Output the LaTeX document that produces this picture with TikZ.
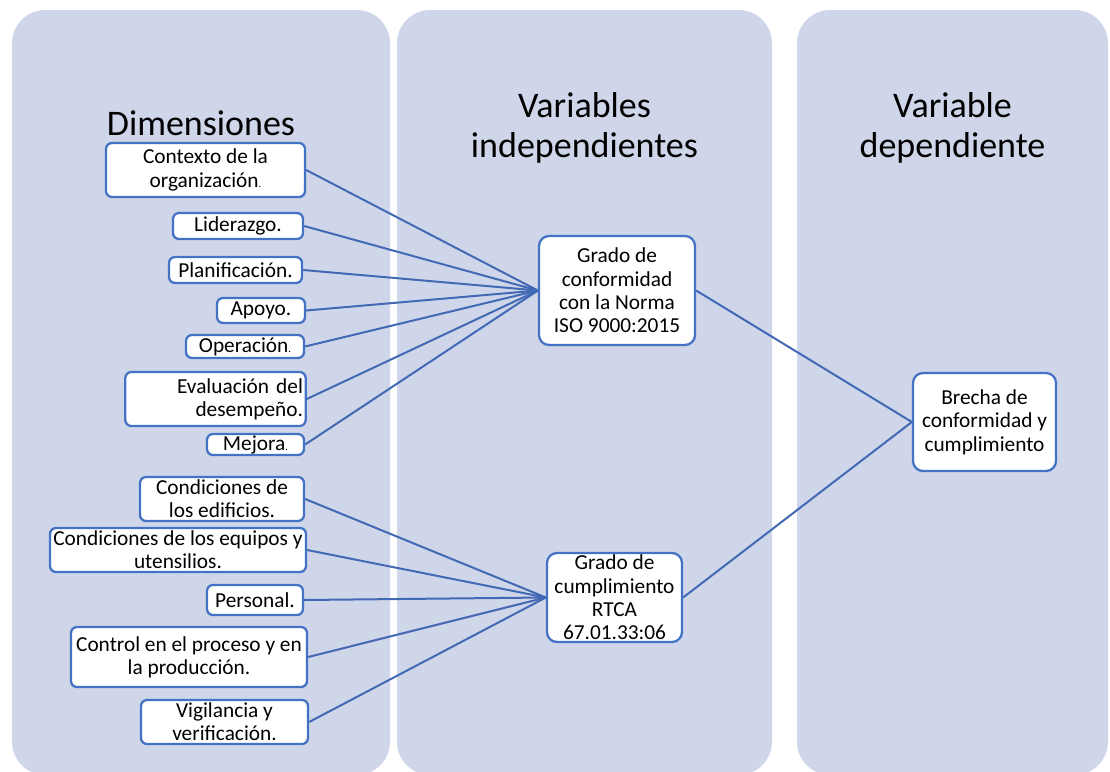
\documentclass[tikz,border=0pt]{standalone}
\usepackage{fontspec}
\setmainfont{Carlito}
\definecolor{colbg}{RGB}{208,214,234}
\definecolor{boxblue}{RGB}{68,114,196}
\definecolor{lineblue}{RGB}{66,105,180}
\newcommand{\smdot}{{\fontsize{8}{8}\selectfont.}}
\begin{document}
\begin{tikzpicture}[x=0.75pt,y=-0.75pt,
  column/.style={fill=colbg, rounded corners=25pt},
  title/.style={font=\fontsize{27}{30}\selectfont, align=center, inner sep=0pt, anchor=base},
  item/.style={draw=boxblue, line width=1.7pt, fill=white, rounded corners=4.5pt,
    font=\fontsize{16}{17.5}\selectfont, align=center, inner xsep=2pt, inner ysep=0pt},
  bigitem/.style={item, rounded corners=7.5pt},
  sz/.style 2 args={minimum width=#1*0.75pt, minimum height=#2*0.75pt},
  link/.style={draw=lineblue, line width=1.5pt}
]
\useasboundingbox (0,0) rectangle (1110,771);
\fill[white] (0,0) rectangle (1110,771);
\clip (0,0) rectangle (1110,771);

% three columns
\path[column] (12,10) rectangle (390,775);
\path[column] (397,10) rectangle (772,775);
\path[column] (797,10) rectangle (1108,775);

% column headings (base anchor sits on the last line)
\node[title] (t1) at (201,135) {Dimensiones};
\node[title] (t2) at (584.5,157) {Variables\\independientes};
\node[title] (t3) at (952.5,157) {Variable\\dependiente};

% dimensions of the ISO standard
\node[item, sz={199}{54}] (ctx) at (205.5,170) {Contexto de la\\organización\smdot};
\node[item, sz={130}{26}] (lid) at (238,226) {Liderazgo.};
\node[item, sz={133}{26}] (pla) at (235.5,270) {Planificación.};
\node[item, sz={88}{25}] (apo) at (261,310.5) {Apoyo.};
\node[item, sz={118}{23}] (ope) at (245,346.5) {Operación\smdot};
\node[item, minimum height=54*0.75pt, text width=175*0.75pt, align=right] (eva) at (215.5,399) {Evaluación del\\desempeño.};
\node[item, sz={97}{21}] (mej) at (255.5,444.5) {Mejora\smdot};

% dimensions of the RTCA
\node[item, sz={164}{44}] (edi) at (222,499) {Condiciones de\\los edificios.};
\node[item, sz={256}{44}] (equ) at (178,550) {Condiciones de los equipos y\\utensilios.};
\node[item, sz={96}{30}] (per) at (255,600) {Personal.};
\node[item, sz={236}{60}] (con) at (189,657) {Control en el proceso y en\\la producción.};
\node[item, sz={167}{44}] (vig) at (224.5,722) {Vigilancia y\\verificación.};

% independent variables
\node[bigitem, sz={156}{109}] (iso) at (617,290.5) {Grado de\\conformidad\\con la Norma\\ISO 9000:2015};
\node[bigitem, sz={135}{89}] (rtca) at (614.5,597.5) {Grado de\\cumplimiento\\RTCA\\67.01.33:06};

% dependent variable
\node[bigitem, sz={143}{98}] (bre) at (984.5,422) {Brecha de\\conformidad y\\cumplimiento};

% connectors
\foreach \n in {ctx,lid,pla,apo,ope,eva,mej}
  \draw[link] (\n.east) -- (iso.west);
\foreach \n in {edi,equ,per,con,vig}
  \draw[link] (\n.east) -- (rtca.west);
\draw[link] (iso.east) -- (bre.west);
\draw[link] (rtca.east) -- (bre.west);
\end{tikzpicture}
\end{document}
